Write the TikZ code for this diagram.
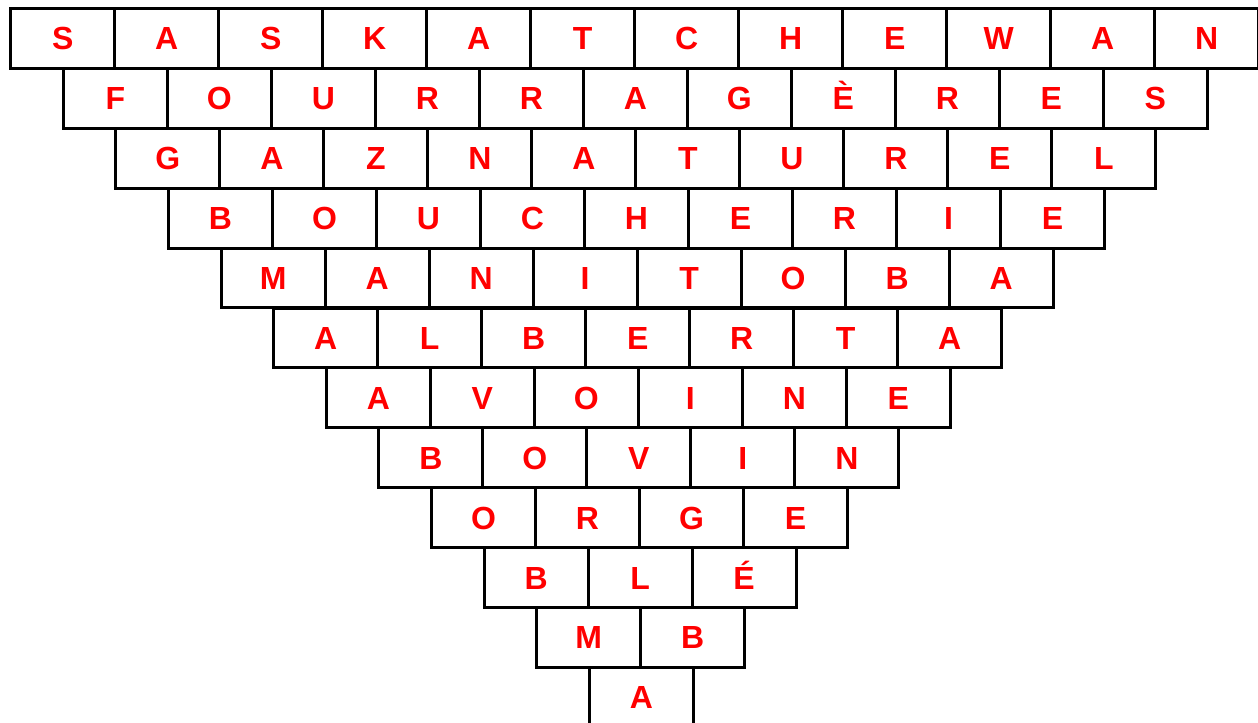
\documentclass[tikz,border=0pt]{standalone}
\usepackage{fontspec}
\setmainfont{Liberation Sans}
\usetikzlibrary{positioning}
\definecolor{lettred}{RGB}{255,0,0}
\tikzset{
  cell/.style={draw=black, line width=0.06cm, minimum width=2.08cm, minimum height=1.198cm,
    inner sep=0pt, text=lettred, font=\fontsize{18.2}{20}\selectfont\bfseries,
    text height=13.03pt, text depth=0pt}}
\begin{document}
\begin{tikzpicture}[x=0.02cm, y=-0.02cm]
\useasboundingbox (0,0) rectangle (1258,723);
\clip (0,0) rectangle (1258,723);
% one row of cells per word, each row shifted by half a cell
\foreach \word [count=\r] in {{S,A,S,K,A,T,C,H,E,W,A,N},{F,O,U,R,R,A,G,È,R,E,S},{G,A,Z,N,A,T,U,R,E,L},{B,O,U,C,H,E,R,I,E},{M,A,N,I,T,O,B,A},{A,L,B,E,R,T,A},{A,V,O,I,N,E},{B,O,V,I,N},{O,R,G,E},{B,L,É},{M,B},{A}}
  \foreach \ch [count=\c] in \word
    \node[cell] (l-\r-\c) at ({62.7+52.6*(\r-1)+104*(\c-1)}, {38.45+59.9*(\r-1)}) {\ch};
\end{tikzpicture}
\end{document}
